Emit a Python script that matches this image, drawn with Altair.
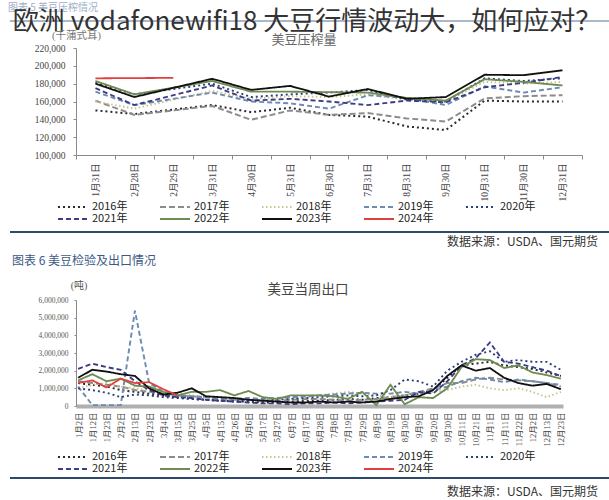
import altair as alt
import pandas as pd

SANS = "Noto Sans CJK SC"
SERIF = "Liberation Serif, Noto Sans CJK SC"
LEG_FONT = "Liberation Sans Narrow, Noto Sans CJK SC"

years = ["2016年", "2017年", "2018年", "2019年", "2020年", "2021年", "2022年", "2023年", "2024年"]
line_colors = ["#2a2a36", "#8c8c8c", "#c9c38e", "#6d8bb0", "#2c3e7a", "#3d3b86", "#6e8b52", "#111111", "#e2403f"]
line_dashes = [[2, 3], [6, 3], [1.5, 2.5], [5, 3], [2, 3], [5, 3], [1, 0], [1, 0], [1, 0]]
line_widths = [2, 1.8, 1.6, 2, 2, 2, 2, 2.4, 2.2]

# ---------- 美豆压榨量 (千蒲式耳) ----------
crush_dates = ["1月31日", "2月28日", "2月29日", "3月31日", "4月30日", "5月31日", "6月30日",
               "7月31日", "8月31日", "9月30日", "10月31日", "11月30日", "12月31日"]
crush_dates_regular = ["1月31日", "2月28日", "3月31日", "4月30日", "5月31日", "6月30日",
                       "7月31日", "8月31日", "9月30日", "10月31日", "11月30日", "12月31日"]
crush_dates_2024 = ["1月31日", "2月29日"]

crush_2016 = [150000, 146000, 156000, 148000, 153000, 145000, 143000, 132000, 128000, 161000, 160000, 160000]
crush_2017 = [161000, 145000, 155000, 139500, 150000, 145000, 147000, 141000, 137500, 163500, 166000, 167000]
crush_2018 = [160000, 152000, 172000, 163000, 166000, 165000, 168000, 162000, 160000, 182000, 180000, 182000]
crush_2019 = [171000, 156000, 170000, 160000, 158000, 152000, 167000, 164000, 156000, 177000, 170000, 176000]
crush_2020 = [181000, 168000, 180000, 165000, 168000, 170000, 173000, 162000, 160000, 186000, 183000, 186000]
crush_2021 = [175000, 156000, 178000, 161000, 163000, 160000, 156000, 161000, 159000, 176000, 181000, 187500]
crush_2022 = [183000, 168000, 183000, 171000, 171000, 170500, 170000, 164000, 161000, 185000, 182000, 178000]
crush_2023 = [180000, 165000, 185500, 173000, 177500, 165500, 174000, 163000, 165000, 190000, 189500, 195000]
crush_2024 = [186000, 186500]

# ---------- 美豆当周出口 (千吨) ----------
export_dates = ["1月2日", "1月12日", "1月23日", "2月2日", "2月13日", "2月23日", "3月4日", "3月15日",
                "3月25日", "4月5日", "4月15日", "4月26日", "5月6日", "5月17日", "5月27日", "6月7日",
                "6月17日", "6月28日", "7月8日", "7月19日", "7月29日", "8月9日", "8月19日", "8月30日",
                "9月9日", "9月20日", "9月30日", "10月11日", "10月21日", "11月1日", "11月11日",
                "11月22日", "12月2日", "12月13日", "12月23日"]

export_2016 = [1300, 1200, 1100, 900, 800, 700, 600, 500, 400, 350, 300, 250, 250, 200, 200, 250, 300, 300,
               350, 400, 350, 450, 500, 600, 700, 900, 1600, 2300, 2400, 2500, 2300, 2200, 2100, 1900, 1700]
export_2017 = [1400, 1300, 1200, 1100, 900, 800, 700, 600, 550, 500, 400, 350, 350, 300, 300, 350, 400, 400,
               350, 300, 350, 400, 500, 600, 800, 1000, 1300, 1300, 1500, 1600, 1500, 1450, 1400, 1300, 1100]
export_2018 = [1000, 1200, 1300, 1100, 1000, 900, 800, 700, 600, 500, 450, 400, 400, 350, 400, 450, 500, 600,
               700, 800, 700, 600, 500, 600, 700, 800, 900, 1100, 1200, 1000, 900, 1000, 800, 500, 800]
export_2019 = [1100, 50, 50, 50, 5400, 1300, 800, 600, 550, 500, 450, 400, 450, 400, 450, 500, 550, 600,
               650, 700, 750, 700, 700, 800, 700, 900, 1100, 1400, 1600, 1500, 1350, 1500, 1400, 1300, 1200]
export_2020 = [1000, 900, 750, 500, 650, 600, 500, 450, 400, 350, 300, 300, 350, 300, 350, 400, 450, 500,
               550, 600, 550, 600, 900, 1500, 1400, 1100, 2000, 2500, 2900, 3100, 2500, 2600, 2500, 2500, 2050]
export_2021 = [2100, 2400, 2200, 2050, 1400, 900, 600, 500, 450, 350, 300, 250, 200, 150, 150, 100, 150, 150,
               200, 150, 200, 250, 300, 350, 800, 700, 1400, 2300, 2700, 3600, 2500, 2400, 2200, 2000, 1700]
export_2022 = [1450, 1800, 1400, 1550, 1150, 1100, 800, 600, 800, 800, 900, 600, 850, 500, 400, 600, 600, 600,
               550, 400, 800, 50, 1200, 100, 500, 450, 1000, 2200, 2650, 2600, 2150, 2300, 1900, 1750, 1550]
export_2023 = [1600, 2050, 1950, 1800, 1700, 1000, 650, 750, 1000, 550, 500, 450, 350, 300, 250, 200, 200, 250,
               200, 250, 200, 250, 400, 500, 550, 900, 1700, 2300, 2000, 2150, 1600, 1300, 1150, 1250, 950]
export_2024 = [1300, 1450, 1050, 1550, 1300, 1350, 950, 600]

crush_series = [crush_2016, crush_2017, crush_2018, crush_2019, crush_2020,
                crush_2021, crush_2022, crush_2023, crush_2024]
export_series = [export_2016, export_2017, export_2018, export_2019, export_2020,
                 export_2021, export_2022, export_2023, export_2024]

rows = []
for yr, vals in zip(years, crush_series):
    ds = crush_dates_2024 if yr == "2024年" else crush_dates_regular
    for d, v in zip(ds, vals):
        rows.append({"year": yr, "date": d, "idx": crush_dates.index(d), "value": v})
crush_df = pd.DataFrame(rows)

rows = []
for yr, vals in zip(years, export_series):
    for i, v in enumerate(vals):
        rows.append({"year": yr, "date": export_dates[i], "idx": i, "value": v * 1000})
export_df = pd.DataFrame(rows)


def legend(y):
    return alt.Legend(title=None, orient="none", legendX=-19, legendY=y, columns=5,
                      direction="horizontal", symbolType="stroke", symbolSize=900,
                      symbolStrokeWidth=2, labelFontSize=11, labelFont=LEG_FONT,
                      labelColor="#222222", columnPadding=31, rowPadding=0, padding=0,
                      labelOffset=3, gridAlign="all", clipHeight=12)


def text_layer(s, x, y, size, color, align="left", font=SANS, baseline="middle"):
    return alt.Chart(pd.DataFrame({"t": [s]})).mark_text(
        align=align, baseline=baseline, fontSize=size, color=color, font=font
    ).encode(text="t:N", x=alt.value(x), y=alt.value(y))


def hrule(x1, x2, y, color, width):
    return alt.Chart(pd.DataFrame({"k": [0]})).mark_rule(color=color, strokeWidth=width).encode(
        x=alt.value(x1), x2=alt.value(x2), y=alt.value(y))


def enc_common(leg_y):
    return dict(
        color=alt.Color("year:N", scale=alt.Scale(domain=years, range=line_colors), legend=legend(leg_y)),
        strokeDash=alt.StrokeDash("year:N", scale=alt.Scale(domain=years, range=line_dashes), legend=legend(leg_y)),
        strokeWidth=alt.StrokeWidth("year:N", scale=alt.Scale(domain=years, range=line_widths), legend=None),
        order=alt.Order("idx:Q"),
    )


crush_lines = alt.Chart(crush_df).mark_line(strokeCap="butt").encode(
    x=alt.X("date:N", sort=crush_dates, bandPosition=0.5,
            scale=alt.Scale(type="band", domain=crush_dates, paddingInner=0, paddingOuter=0),
            axis=alt.Axis(title=None, labelAngle=-90, tickBand="extent", labelFont=SERIF,
                          labelFontSize=9.5, labelColor="#444444", domainColor="#8a8a8a",
                          tickColor="#8a8a8a", tickSize=4, labelPadding=4)),
    y=alt.Y("value:Q", scale=alt.Scale(domain=[100000, 220000], nice=False, zero=False),
            axis=alt.Axis(title=None, values=list(range(100000, 220001, 20000)), format=",.0f",
                          labelFont=SERIF, labelFontSize=9.5, labelColor="#444444", grid=False,
                          domainColor="#8a8a8a", tickColor="#8a8a8a", tickSize=3, labelPadding=8)),
    **enc_common(153),
).properties(width=506, height=107)

top = alt.layer(
    crush_lines,
    hrule(-66, 533, -27, "#8fa0b8", 1.5),
    text_layer("图表 5  美豆压榨情况", -68, -40, 10, "#9fb0c8"),
    text_layer("欧洲 vodafonewifi18 大豆行情波动大，如何应对？", 231, -26, 26, "#333333", align="center"),
    text_layer("(千蒲式耳)", -24, -12, 10.5, "#777777", font=SERIF),
    text_layer("美豆压榨量", 228, -8, 13, "#666666", align="center", font=SERIF),
    hrule(-66, 533, 184, "#2e4a6b", 2),
    text_layer("数据来源：USDA、国元期货", 522, 194, 12, "#333333", align="right"),
    text_layer("图表 6  美豆检验及出口情况", -64, 213, 12, "#3d5a85"),
)

export_lines = alt.Chart(export_df).mark_line(strokeCap="butt").encode(
    x=alt.X("date:N", sort=export_dates,
            scale=alt.Scale(type="point", domain=export_dates, padding=0.15),
            axis=alt.Axis(title=None, labelAngle=-90, labelFont=SERIF, labelFontSize=8.5,
                          labelColor="#444444", domainColor="#b0b0b0", domainWidth=4,
                          ticks=False, labelPadding=6)),
    y=alt.Y("value:Q", scale=alt.Scale(domain=[0, 6000000], nice=False),
            axis=alt.Axis(title=None, values=list(range(0, 6000001, 1000000)), format=",.0f",
                          labelFont=SERIF, labelFontSize=7.5, labelColor="#555555", grid=False,
                          domainColor="#8a8a8a", tickColor="#8a8a8a", tickSize=2, labelPadding=6)),
    **enc_common(151),
).properties(width=487, height=106)

bottom = alt.layer(
    export_lines,
    text_layer("(吨)", 3, -14, 10, "#555555", align="center", font=SERIF),
    text_layer("美豆当周出口", 232, -10, 13.5, "#444444", align="center", font=SERIF),
    hrule(-66, 533, 178, "#2e4a6b", 2),
    text_layer("数据来源：USDA、国元期货", 522, 192, 12, "#333333", align="right"),
)

chart = alt.vconcat(top, bottom, spacing=145, bounds="flush").resolve_scale(
    color="independent", strokeDash="independent", strokeWidth="independent"
).resolve_legend(
    color="independent", strokeDash="independent"
).properties(
    autosize=alt.AutoSizeParams(type="none"),
    padding={"left": 76, "top": 48, "right": 533, "bottom": 452},
).configure_view(stroke=None)

chart.save("out.html", embed_options={"renderer": "svg", "actions": False})
